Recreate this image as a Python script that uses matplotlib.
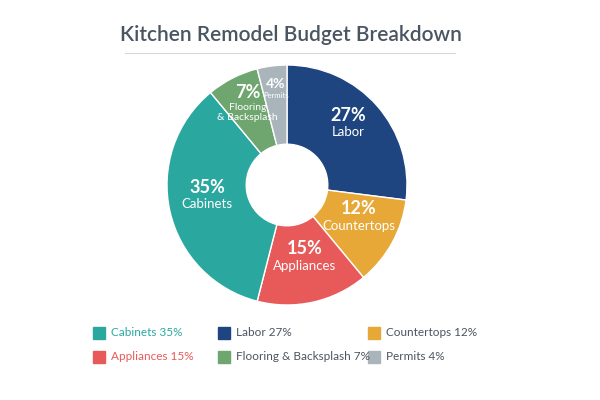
import matplotlib.pyplot as plt
from matplotlib.patches import Rectangle
import numpy as np

labels = ["Labor", "Countertops", "Appliances", "Cabinets", "Flooring\n& Backsplash", "Permits"]
legend_names = ["Labor", "Countertops", "Appliances", "Cabinets", "Flooring & Backsplash", "Permits"]
values = [27, 12, 15, 35, 7, 4]
colors = ["#1f4580", "#e8a838", "#e85a5a", "#2aa8a0", "#6fa56f", "#a9b5bb"]

plt.rcParams['font.family'] = ['Lato', 'DejaVu Sans']
fig = plt.figure(figsize=(6, 4), dpi=100)

# title and rule
fig.text(0.485, 0.912, "Kitchen Remodel Budget Breakdown", ha="center", va="center",
         fontsize=15, color="#4a5562", fontweight="semibold")
fig.add_artist(plt.Line2D([125 / 600, 455 / 600], [1 - 53 / 400] * 2, color="#d5d9dc", lw=0.8))

# donut
ax = fig.add_axes([(287 - 125) / 600, (215 - 125) / 400, 250 / 600, 250 / 400])
wedges, _ = ax.pie(values, colors=colors, startangle=90, counterclock=False,
                   wedgeprops=dict(width=0.66, edgecolor="white", linewidth=1))
ax.set_xlim(-1.0417, 1.0417)
ax.set_ylim(-1.0417, 1.0417)
ax.set_aspect("equal")

start = 90
for name, v, w in zip(labels, values, wedges):
    mid = np.deg2rad(start - v * 3.6 / 2)
    start -= v * 3.6
    r = 0.68 if v > 5 else 0.74
    if v == 7:
        r = 0.72
    x, y = r * np.cos(mid), r * np.sin(mid)
    big = 13 if v > 5 else 10
    small = 9.5 if v > 7 else (7.5 if v == 7 else 5.5)
    ax.text(x, y + 0.06, f"{v}%", ha="center", va="bottom", color="white",
            fontsize=big, fontweight="bold")
    ax.text(x, y + 0.04, name, ha="center", va="top", color="white",
            fontsize=small, linespacing=1.05)

# legend
cols = [93, 218, 368]
rows = [333, 357]
order = [3, 0, 1, 2, 4, 5]
for i, idx in enumerate(order):
    px, py = cols[i % 3], rows[i // 3]
    fig.add_artist(Rectangle((px / 600, (400 - py - 6) / 400), 12 / 600, 12 / 400,
                             color=colors[idx], transform=fig.transFigure))
    tc = colors[idx] if idx in (2, 3) else "#4a5562"
    fig.text((px + 18) / 600, 1 - py / 400, f"{legend_names[idx]} {values[idx]}%",
             ha="left", va="center", fontsize=8.5, color=tc)

fig.savefig("out.png", dpi=100, facecolor="white")
